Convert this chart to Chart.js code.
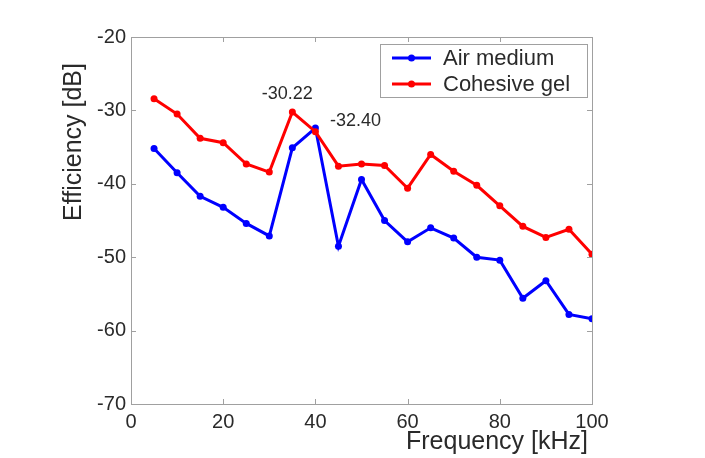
<!DOCTYPE html>
<html>
<head>
<meta charset="utf-8">
<script src="https://cdn.jsdelivr.net/npm/chart.js@4.4.1/dist/chart.umd.min.js"></script>
<style>
  html, body { margin: 0; padding: 0; background: #fff; }
  #wrap { width: 705px; height: 458px; }
</style>
</head>
<body>
<div id="wrap"><canvas id="myChart" width="705" height="458"></canvas></div>
<script>
// frequency in kHz
const frequency = [5, 10, 15, 20, 25, 30, 35, 40, 45, 50, 55, 60, 65, 70, 75, 80, 85, 90, 95, 100];
const airMedium = [-35.2, -38.5, -41.7, -43.2, -45.4, -47.1, -35.1, -32.4, -48.5, -39.4,
                   -45.0, -47.9, -46.0, -47.4, -50.0, -50.4, -55.6, -53.2, -57.8, -58.4];
const cohesiveGel = [-28.4, -30.5, -33.8, -34.4, -37.3, -38.4, -30.22, -32.9, -37.6, -37.3,
                     -37.5, -40.6, -36.0, -38.3, -40.2, -43.0, -45.8, -47.3, -46.2, -49.6];
const xTicks = [0, 20, 40, 60, 80, 100];
const yTicks = [-70, -60, -50, -40, -30, -20];
const seriesNames = ['Air medium', 'Cohesive gel'];
const peakLabels = ['-30.22', '-32.40'];

const FONT = '"Liberation Sans", Arial, Helvetica, sans-serif';
const TEXT = '#2a2a2a';
const AXIS = '#a0a0a0';
const BLUE = '#0000ff';
const RED = '#ff0000';

const toPoints = (ys) => frequency.map((f, i) => ({ x: f, y: ys[i] }));

// box + inward ticks like matlab
const boxPlugin = {
  id: 'box',
  afterDraw(chart) {
    const { ctx, chartArea: a, scales } = chart;
    ctx.save();
    ctx.strokeStyle = AXIS;
    ctx.lineWidth = 1;
    ctx.strokeRect(a.left + 0.5, a.top + 0.5, a.right - a.left, a.bottom - a.top);
    ctx.beginPath();
    xTicks.forEach(v => {
      const px = Math.round(scales.x.getPixelForValue(v)) + 0.5;
      ctx.moveTo(px, a.bottom); ctx.lineTo(px, a.bottom - 5);
      ctx.moveTo(px, a.top); ctx.lineTo(px, a.top + 5);
    });
    yTicks.forEach(v => {
      const py = Math.round(scales.y.getPixelForValue(v)) + 0.5;
      ctx.moveTo(a.left, py); ctx.lineTo(a.left + 5, py);
      ctx.moveTo(a.right, py); ctx.lineTo(a.right - 5, py);
    });
    ctx.stroke();
    ctx.restore();
  }
};

const textPlugin = {
  id: 'texts',
  afterDraw(chart) {
    const { ctx, scales } = chart;
    ctx.save();
    ctx.fillStyle = TEXT;

    // axis titles
    ctx.font = '25px ' + FONT;
    ctx.textAlign = 'right';
    ctx.textBaseline = 'alphabetic';
    ctx.fillText('Frequency [kHz]', 588, 449);
    ctx.save();
    ctx.translate(81, 142);
    ctx.rotate(-Math.PI / 2);
    ctx.textAlign = 'center';
    ctx.fillText('Efficiency [dB]', 0, 0);
    ctx.restore();

    // peak labels
    ctx.font = '18px ' + FONT;
    ctx.textAlign = 'center';
    ctx.textBaseline = 'middle';
    const gx = scales.x.getPixelForValue(frequency[6]);
    const gy = scales.y.getPixelForValue(cohesiveGel[6]);
    ctx.fillText(peakLabels[0], gx - 5, gy - 18);
    const ax = scales.x.getPixelForValue(frequency[7]);
    const ay = scales.y.getPixelForValue(airMedium[7]);
    ctx.fillText(peakLabels[1], ax + 40, ay - 7);

    // legend
    ctx.fillStyle = '#fff';
    ctx.fillRect(380, 44, 208, 54);
    ctx.strokeStyle = AXIS;
    ctx.lineWidth = 1;
    ctx.strokeRect(380.5, 44.5, 207, 53);
    const colors = [BLUE, RED];
    const rows = [58, 84];
    ctx.font = '22px ' + FONT;
    ctx.textAlign = 'left';
    seriesNames.forEach((name, i) => {
      ctx.strokeStyle = colors[i];
      ctx.lineWidth = 3;
      ctx.beginPath();
      ctx.moveTo(392, rows[i]); ctx.lineTo(431, rows[i]);
      ctx.stroke();
      ctx.fillStyle = colors[i];
      ctx.beginPath();
      ctx.arc(411.5, rows[i], 3.5, 0, Math.PI * 2);
      ctx.fill();
      ctx.fillStyle = TEXT;
      ctx.fillText(name, 443, rows[i] + 1);
    });
    ctx.restore();
  }
};

const ctx = document.getElementById('myChart').getContext('2d');
const chart = new Chart(ctx, {
  type: 'line',
  data: {
    datasets: [
      {
        label: seriesNames[0],
        data: toPoints(airMedium),
        borderColor: BLUE,
        backgroundColor: BLUE,
        borderWidth: 3,
        pointRadius: 3.5,
        pointBorderWidth: 0,
        tension: 0,
        order: 1
      },
      {
        label: seriesNames[1],
        data: toPoints(cohesiveGel),
        borderColor: RED,
        backgroundColor: RED,
        borderWidth: 3,
        pointRadius: 3.5,
        pointBorderWidth: 0,
        tension: 0,
        order: 0
      }
    ]
  },
  options: {
    responsive: false,
    animation: false,
    layout: { padding: { top: 37, right: 113, left: 0, bottom: 0 } },
    plugins: {
      legend: { display: false },
      tooltip: { enabled: false }
    },
    scales: {
      x: {
        type: 'linear',
        min: 0,
        max: 100,
        afterFit: (s) => { s.height = 54; },
        afterBuildTicks: (s) => { s.ticks = xTicks.map(v => ({ value: v })); },
        grid: { display: false, drawTicks: false },
        border: { display: true, color: AXIS },
        ticks: { color: TEXT, font: { family: FONT, size: 20 }, padding: 6, maxRotation: 0 }
      },
      y: {
        type: 'linear',
        min: -70,
        max: -20,
        afterFit: (s) => { s.width = 131; },
        afterBuildTicks: (s) => { s.ticks = yTicks.map(v => ({ value: v })); },
        grid: { display: false, drawTicks: false },
        border: { display: true, color: AXIS },
        ticks: { color: TEXT, font: { family: FONT, size: 20 }, padding: 5 }
      }
    }
  },
  plugins: [boxPlugin, textPlugin]
});
</script>
</body>
</html>
